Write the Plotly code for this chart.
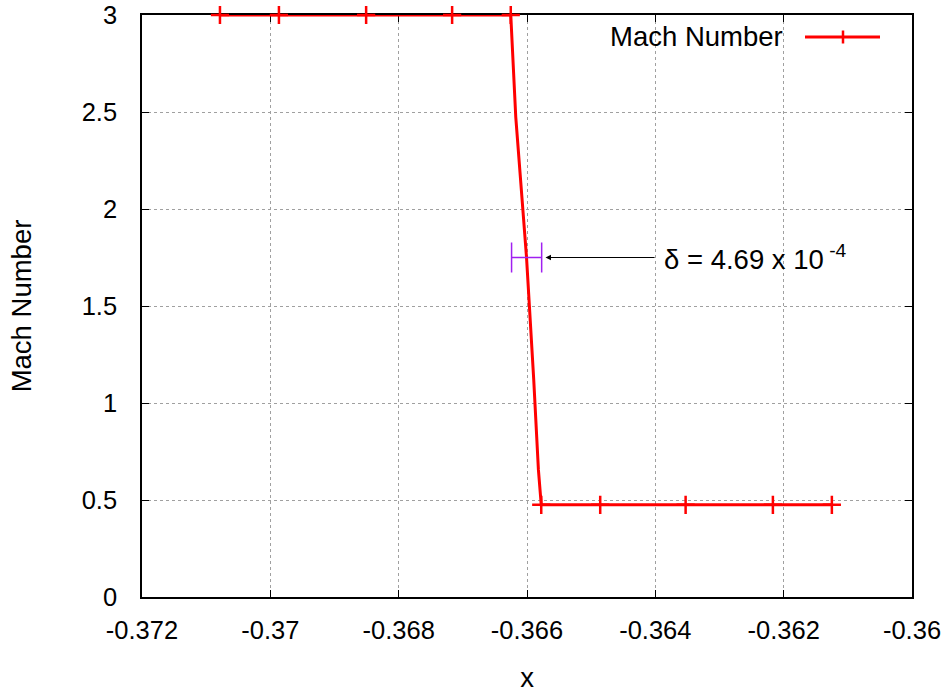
import plotly.graph_objects as go

# Upstream (supersonic) mesh points carrying markers
upstream_x = [-0.370785, -0.369866, -0.368507, -0.367167, -0.366253]
upstream_mach = [3.0, 3.0, 3.0, 3.0, 3.0]

# Points inside the shock layer (no markers)
shock_x = [-0.366175, -0.366008, -0.365895, -0.365822]
shock_mach = [2.474, 1.753, 1.119, 0.655]

# Downstream (subsonic) mesh points carrying markers
downstream_x = [-0.365778, -0.364859, -0.363528, -0.362168, -0.361249]
downstream_mach = [0.4752, 0.4752, 0.4752, 0.4752, 0.4752]

# Shock thickness estimate
delta = 4.69e-4
delta_center = -0.366006
delta_level = 1.75

x_ticks = [-0.372, -0.370, -0.368, -0.366, -0.364, -0.362, -0.360]
x_tick_labels = ["-0.372", "-0.37", "-0.368", "-0.366", "-0.364", "-0.362", "-0.36"]
y_ticks = [0, 0.5, 1, 1.5, 2, 2.5, 3]
y_tick_labels = ["0", "0.5", "1", "1.5", "2", "2.5", "3"]

FONT = "Liberation Sans, Arial, Helvetica, sans-serif"
RED = "#ff0000"
PURPLE = "#a020f0"
TICK_SIZE = 25.5
TEXT_SIZE = 27.5

W, H = 946, 693
ML, MR, MT, MB = 142, 34, 15, 96
pw, ph = W - ML - MR, H - MT - MB


def px(xp):
    return (xp - ML) / pw


def py(yp):
    return (H - MB - yp) / ph


line_x = upstream_x + shock_x + downstream_x
line_y = upstream_mach + shock_mach + downstream_mach

fig = go.Figure()

fig.add_trace(go.Scatter(
    x=line_x, y=line_y, mode="lines",
    line=dict(color=RED, width=3),
    showlegend=False, cliponaxis=False, hoverinfo="skip",
))
fig.add_trace(go.Scatter(
    x=upstream_x + downstream_x, y=upstream_mach + downstream_mach,
    mode="markers",
    marker=dict(symbol="cross-thin", size=13, color=RED,
                line=dict(color=RED, width=2.5)),
    showlegend=False, cliponaxis=False, hoverinfo="skip",
))

# Horizontal bar showing the shock thickness
fig.add_trace(go.Scatter(
    x=[delta_center], y=[delta_level], mode="markers",
    marker=dict(size=1, color="rgba(0,0,0,0)"),
    error_x=dict(type="constant", value=delta / 2, color=PURPLE,
                 thickness=1.5, width=15),
    showlegend=False, hoverinfo="skip",
))

# Arrow pointing at the bar, and its label
fig.add_annotation(
    x=delta_center + delta / 2 + 0.00006, y=delta_level,
    ax=-0.363988, ay=delta_level, axref="x", ayref="y",
    xref="x", yref="y", text="", showarrow=True,
    arrowhead=2, arrowsize=1.1, arrowwidth=1, arrowcolor="#000000",
)
fig.add_annotation(
    x=-0.363901, y=delta_level, xref="x", yref="y",
    xanchor="left", yanchor="middle", showarrow=False,
    text="\u03b4 = 4.69 x 10<sup> -4</sup>",
    font=dict(family=FONT, size=TEXT_SIZE, color="#000000"),
)

# Key in the upper right corner
fig.add_annotation(
    x=px(785), y=py(37), xref="paper", yref="paper", text="Mach Number",
    showarrow=False, xanchor="right", yanchor="middle",
    font=dict(family=FONT, size=TEXT_SIZE, color="#000000"),
)
fig.add_shape(type="line", xref="paper", yref="paper",
              x0=px(805), x1=px(880), y0=py(37), y1=py(37),
              line=dict(color=RED, width=3))
fig.add_shape(type="line", xref="paper", yref="paper",
              x0=px(843), x1=px(843), y0=py(30.5), y1=py(43.5),
              line=dict(color=RED, width=2.5))

axis_common = dict(
    showline=True, linecolor="#000000", linewidth=1.5, mirror="ticks",
    ticks="inside", ticklen=7, tickwidth=1, tickcolor="#000000",
    showgrid=True, gridcolor="#a0a0a0", gridwidth=1, griddash="dot",
    zeroline=False, layer="below traces",
    tickfont=dict(family=FONT, size=TICK_SIZE, color="#000000"),
)

fig.update_xaxes(
    range=[-0.372, -0.360], tickvals=x_ticks, ticktext=x_tick_labels,
    title=dict(text="x", font=dict(family=FONT, size=TEXT_SIZE, color="#000000"),
               standoff=24),
    ticklabelstandoff=10,
    **axis_common,
)
fig.update_yaxes(
    range=[0, 3], tickvals=y_ticks, ticktext=y_tick_labels,
    title=dict(text="Mach Number", font=dict(family=FONT, size=TEXT_SIZE, color="#000000"),
               standoff=42),
    ticklabelstandoff=18,
    **axis_common,
)

fig.update_layout(
    width=W, height=H,
    margin=dict(l=ML, r=MR, t=MT, b=MB, autoexpand=False),
    plot_bgcolor="#ffffff", paper_bgcolor="#ffffff",
    showlegend=False,
)

fig.write_html("out.html")
